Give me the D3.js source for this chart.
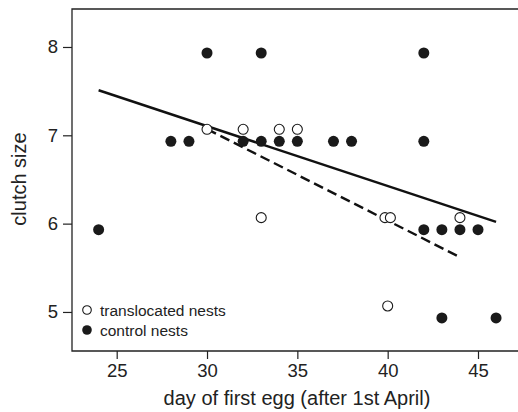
<!DOCTYPE html>
<html>
<head>
  <meta charset="utf-8">
  <title>Clutch size vs laying date</title>
  <script src="https://d3js.org/d3.v7.min.js"></script>
  <style>
    body { margin: 0; background: #fff; }
    svg text { font-family: "Liberation Sans", Arial, sans-serif; fill: #222; }
  </style>
</head>
<body>
  <svg width="518" height="412"></svg>
  <script>
    // control nests (filled dots): day of first egg, clutch size
    var controlDays  = [30, 33, 42, 28, 29, 32, 33, 34, 35, 37, 38, 42, 24, 42, 43, 44, 45, 43, 46];
    var controlSizes = [ 8,  8,  8,  7,  7,  7,  7,  7,  7,  7,  7,  7,  6,  6,  6,  6,  6,  5,  5];
    // translocated nests (open circles)
    var translocDays  = [30, 32, 34, 35, 33, 39.85, 40.15, 44, 40];
    var translocSizes = [ 7,  7,  7,  7,  6,  6,     6,     6,  5];
    // fitted lines (end points)
    var controlFitDays  = [24, 46];
    var controlFitSizes = [7.51, 6.02];
    var translocFitDays  = [30, 44];
    var translocFitSizes = [7.07, 5.62];
    var xTicks = [25, 30, 35, 40, 45];
    var yTicks = [5, 6, 7, 8];

    var svg = d3.select("svg");
    var plotL = 72, plotR = 518, plotT = 9, plotB = 351;

    var x = d3.scaleLinear().domain([22.526, 47.214]).range([plotL, plotR]);
    var y = d3.scaleLinear().domain([4.558, 8.43]).range([plotB, plotT]);
    var dodge = 0.068; // vertical offset so the two groups don't overlap

    // frame
    svg.append("path")
      .attr("d", "M" + (plotR + 2) + "," + plotT + "H" + plotL + "V" + plotB + "H" + (plotR + 2))
      .attr("fill", "none")
      .attr("stroke", "#222")
      .attr("stroke-width", 1.3);

    // axes
    var gx = svg.append("g")
      .attr("transform", "translate(0," + plotB + ")")
      .call(d3.axisBottom(x).tickValues(xTicks).tickFormat(d3.format("d")).tickSize(8).tickPadding(5));
    gx.select(".domain").remove();
    gx.selectAll("line").attr("stroke", "#222").attr("stroke-width", 1.2);
    gx.selectAll("text").style("font-size", "18.5px");

    var gy = svg.append("g")
      .attr("transform", "translate(" + plotL + ",0)")
      .call(d3.axisLeft(y).tickValues(yTicks).tickFormat(d3.format("d")).tickSize(9).tickPadding(5));
    gy.select(".domain").remove();
    gy.selectAll("line").attr("stroke", "#222").attr("stroke-width", 1.2);
    gy.selectAll("text").style("font-size", "18.5px");

    svg.append("text")
      .attr("x", 297)
      .attr("y", 405)
      .attr("text-anchor", "middle")
      .style("font-size", "20px")
      .text("day of first egg (after 1st April)");

    svg.append("text")
      .attr("transform", "translate(26,179) rotate(-90)")
      .attr("text-anchor", "middle")
      .style("font-size", "20px")
      .text("clutch size");

    // fitted lines
    var line = d3.line().x(function (d) { return x(d[0]); }).y(function (d) { return y(d[1]); });
    svg.append("path")
      .datum(d3.zip(controlFitDays, controlFitSizes))
      .attr("d", line)
      .attr("fill", "none")
      .attr("stroke", "#111")
      .attr("stroke-width", 2.4);
    svg.append("path")
      .datum(d3.zip(translocFitDays, translocFitSizes))
      .attr("d", line)
      .attr("fill", "none")
      .attr("stroke", "#111")
      .attr("stroke-width", 2.4)
      .attr("stroke-dasharray", "10,5");

    // points
    svg.append("g").selectAll("circle")
      .data(d3.zip(controlDays, controlSizes))
      .enter().append("circle")
      .attr("cx", function (d) { return x(d[0]); })
      .attr("cy", function (d) { return y(d[1] - dodge); })
      .attr("r", 5.5)
      .attr("fill", "#1a1a1a");

    svg.append("g").selectAll("circle")
      .data(d3.zip(translocDays, translocSizes))
      .enter().append("circle")
      .attr("cx", function (d) { return x(d[0]); })
      .attr("cy", function (d) { return y(d[1] + dodge); })
      .attr("r", 5)
      .attr("fill", "#fff")
      .attr("stroke", "#1a1a1a")
      .attr("stroke-width", 1.1);

    // legend
    var legend = svg.append("g").attr("transform", "translate(87,310)");
    legend.append("circle").attr("r", 4.3).attr("fill", "#fff").attr("stroke", "#1a1a1a").attr("stroke-width", 1.1);
    legend.append("circle").attr("cy", 20).attr("r", 4.8).attr("fill", "#1a1a1a");
    legend.append("text").attr("x", 13).attr("y", 5.5).style("font-size", "15.5px").text("translocated nests");
    legend.append("text").attr("x", 13).attr("y", 25.5).style("font-size", "15.5px").text("control nests");
  </script>
</body>
</html>
